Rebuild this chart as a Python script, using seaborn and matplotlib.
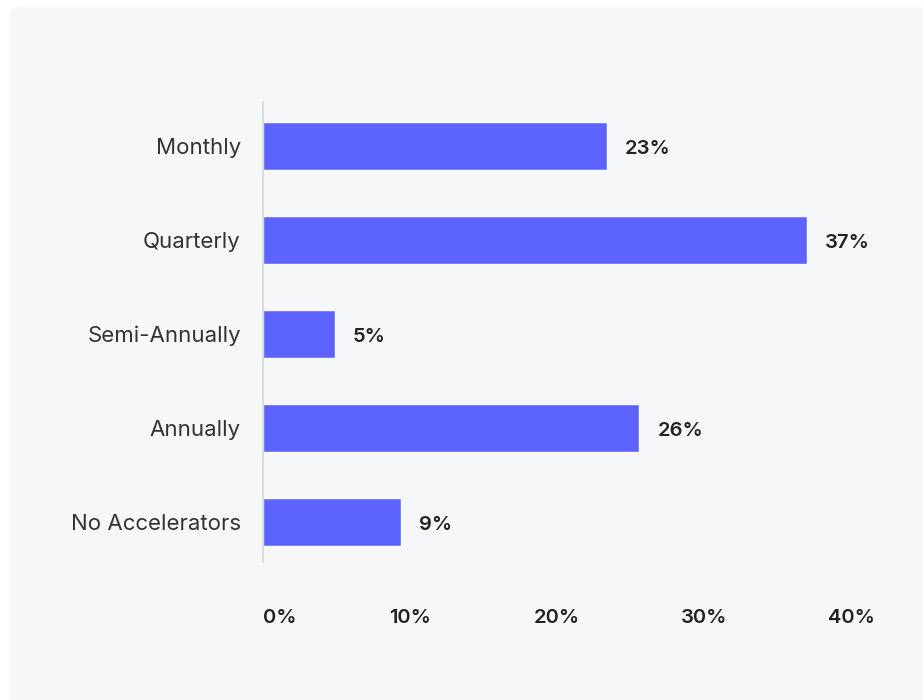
import numpy as np
import pandas as pd
import matplotlib
matplotlib.use('Agg')
import matplotlib.pyplot as plt
from matplotlib.patches import FancyBboxPatch
import seaborn as sns

# Data
categories = ['Monthly', 'Quarterly', 'Semi-Annually', 'Annually', 'No Accelerators']
shares = [23.4, 37.0, 4.9, 25.6, 9.4]
share_labels = ['23%', '37%', '5%', '26%', '9%']
x_ticks = [0, 10, 20, 30, 40]
x_tick_labels = ['0%', '10%', '20%', '30%', '40%']

df = pd.DataFrame({'frequency': categories, 'share': shares})

sns.set_theme(style='white')
plt.rcParams['font.family'] = ['Inter', 'DejaVu Sans']

bar_color = '#5c63ff'
panel_bg = '#f6f7f9'
text_col = '#333333'

fig = plt.figure(figsize=(9.23, 7.0), dpi=100)
fig.patch.set_facecolor('white')

# rounded light panel behind the chart
panel = FancyBboxPatch((10 / 923, -0.05), 1.2, 1.05 - 7 / 700,
                       boxstyle='round,pad=0,rounding_size=0.012',
                       transform=fig.transFigure, facecolor=panel_bg,
                       edgecolor='none', zorder=-5)
fig.patches.append(panel)

ax = fig.add_axes([263 / 923, 1 - 562 / 700, 588 / 923, 460 / 700])
ax.set_facecolor('none')
ax.set_zorder(2)

sns.barplot(data=df, y='frequency', x='share', orient='h', color=bar_color,
            width=0.51, saturation=1, ax=ax)

ax.set_xlim(0, 40)
ax.set_ylim(4.43, -0.47)

for i, (v, lab) in enumerate(zip(shares, share_labels)):
    ax.annotate(lab, xy=(v, i), xytext=(18, -3), textcoords='offset pixels',
                ha='left', va='center', fontsize=14.5, fontweight='semibold',
                color='#222222', annotation_clip=False)

ax.set_xticks(x_ticks)
ax.set_xticklabels(x_tick_labels, fontsize=14.5, fontweight='semibold', color='#222222')
ax.get_xticklabels()[0].set_ha('left')
ax.tick_params(axis='x', length=0, pad=34)
ax.tick_params(axis='y', length=0, pad=16, labelsize=16, labelcolor=text_col)

ax.set_xlabel('')
ax.set_ylabel('')
for side in ['top', 'right', 'bottom']:
    ax.spines[side].set_visible(False)
ax.spines['left'].set_color('#d3d8db')
ax.spines['left'].set_linewidth(1.2)

fig.savefig('out.png', dpi=100, facecolor='white')
